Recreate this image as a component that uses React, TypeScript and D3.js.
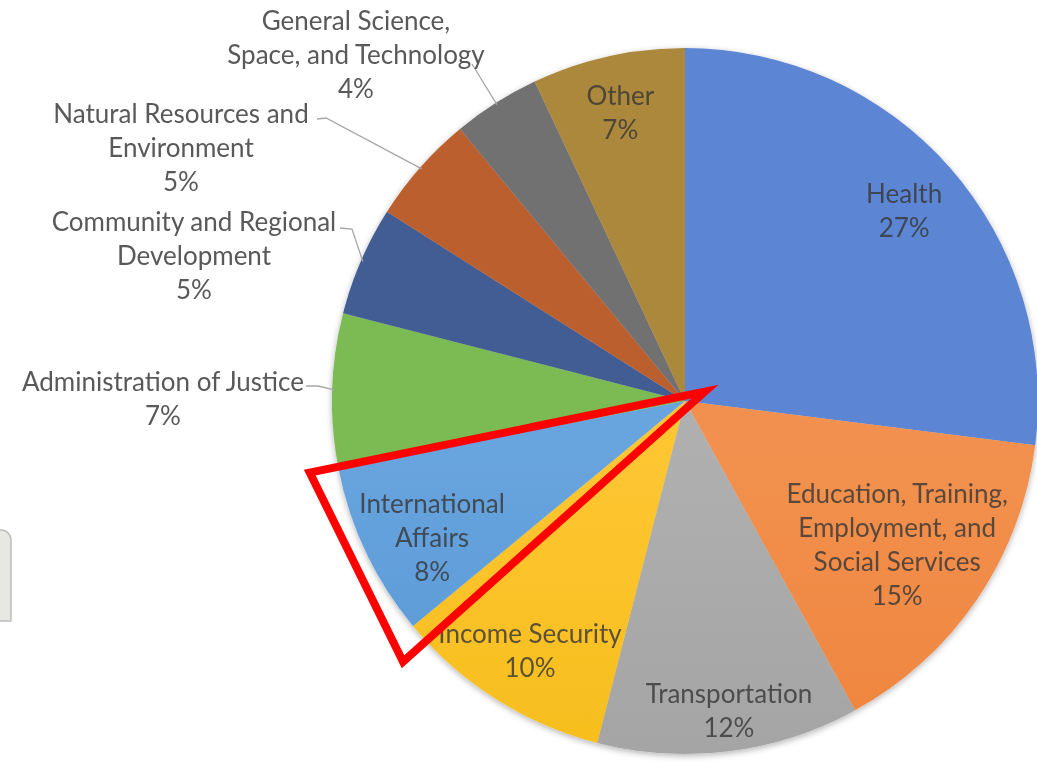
import React from 'react';
import * as d3 from 'd3';

// budget shares, clockwise from 12 o'clock
const categories = [
  'Health',
  'Education, Training, Employment, and Social Services',
  'Transportation',
  'Income Security',
  'International Affairs',
  'Administration of Justice',
  'Community and Regional Development',
  'Natural Resources and Environment',
  'General Science, Space, and Technology',
  'Other'
];
const values = [27, 15, 12, 10, 8, 7, 5, 5, 4, 7];
const labelLines = [
  ['Health'],
  ['Education, Training,', 'Employment, and', 'Social Services'],
  ['Transportation'],
  ['Income Security'],
  ['International', 'Affairs'],
  ['Administration of Justice'],
  ['Community and Regional', 'Development'],
  ['Natural Resources and', 'Environment'],
  ['General Science,', 'Space, and Technology'],
  ['Other']
];
const highlighted = 'International Affairs';

// [light, dark] gradient stops
const colors: [string, string][] = [
  ['#5c86d4', '#2f60bf'],
  ['#f2914f', '#ea7526'],
  ['#afafaf', '#979797'],
  ['#ffc633', '#ebb300'],
  ['#68a4de', '#4489cd'],
  ['#7bba52', '#5ea436'],
  ['#435d93', '#1d3b78'],
  ['#bb5e2d', '#a0480c'],
  ['#717171', '#575757'],
  ['#ab883a', '#977306']
];

const W = 1037;
const H = 765;
const cx = 685;
const cy = 401;
const R = 353;
const LINE = 34;
const FONT = 'Lato, "Noto Sans", sans-serif';

// inside label distance as a fraction of radius (null = outside label), plus a small nudge
const labelRadius: (number | null)[] = [0.82, 0.72, 0.88, 0.83, 0.82, null, null, null, null, 0.84];
const labelNudge: [number, number][] = [[2, 0], [2, 0], [5, 1], [2, 2], [9, 13], [0, 0], [0, 0], [0, 0], [0, 0], [0, 0]];
// outside label placement: centre x, first line y, leader start points
const outside: Record<number, { x: number; y: number; leader: [number, number][] }> = {
  5: { x: 163, y: 381, leader: [[306, 386], [318, 386]] },
  6: { x: 194, y: 221, leader: [[340, 228], [352, 229]] },
  7: { x: 181, y: 113, leader: [[317, 119], [326, 118]] },
  8: { x: 356, y: 20, leader: [[472, 64]] }
};

const pt = (a: number, r: number): [number, number] => [cx + r * Math.sin(a), cy - r * Math.cos(a)];

export default function App() {
  const pie = d3.pie<number>().sort(null).value(d => d);
  const arcs = pie(values);
  const arc = d3.arc<d3.PieArcDatum<number>>().innerRadius(0).outerRadius(R);

  const hi = arcs[categories.indexOf(highlighted)];
  const mid = (hi.startAngle + hi.endAngle) / 2;
  const apex = pt(mid + Math.PI, 22);
  const tri = [apex, pt(hi.startAngle - 0.055, 384), pt(hi.endAngle, 382)];

  return (
    <svg width={W} height={H} style={{ position: 'absolute', left: 0, top: 0, background: '#fff' }}>
      <defs>
        {colors.map((c, i) => (
          <linearGradient key={i} id={`g${i}`} gradientUnits="userSpaceOnUse" x1={0} y1={cy - R} x2={0} y2={cy + R}>
            <stop offset="0" stopColor={c[0]} />
            <stop offset="1" stopColor={c[1]} />
          </linearGradient>
        ))}
        <filter id="shadow" x="-10%" y="-10%" width="120%" height="120%">
          <feDropShadow dx="0" dy="2" stdDeviation="3" floodColor="#000" floodOpacity="0.3" />
        </filter>
      </defs>

      <path d="M-20,530 H1 A10,10 0 0 1 11,540 V621 H-20 Z" fill="#e7e7e4" stroke="#bdbdbb" strokeWidth={1.5} />

      <g filter="url(#shadow)">
        {arcs.map((d, i) => (
          <path key={i} d={arc(d) ?? ''} transform={`translate(${cx},${cy})`} fill={`url(#g${i})`} />
        ))}
      </g>

      {arcs.map((d, i) => {
        const m = (d.startAngle + d.endAngle) / 2;
        const lines = [...labelLines[i], `${values[i]}%`];
        const lr = labelRadius[i];
        if (lr != null) {
          const p = pt(m, lr * R);
          const x = p[0] + labelNudge[i][0];
          const y = p[1] + labelNudge[i][1];
          return (
            <text key={i} x={x} textAnchor="middle" fontFamily={FONT} fontSize={26} fill="#383838" fillOpacity={0.82}>
              {lines.map((l, k) => (
                <tspan key={k} x={x} y={y + (k - (lines.length - 1) / 2) * LINE} dominantBaseline="central">{l}</tspan>
              ))}
            </text>
          );
        }
        const o = outside[i];
        const end = pt(m, R - 2);
        const pts = [...o.leader, end].map(p => p.join(',')).join(' ');
        return (
          <g key={i}>
            <polyline points={pts} fill="none" stroke="#a6a6a6" strokeWidth={1.3} />
            <text x={o.x} textAnchor="middle" fontFamily={FONT} fontSize={26} fill="#595959">
              {lines.map((l, k) => (
                <tspan key={k} x={o.x} y={o.y + k * LINE} dominantBaseline="central">{l}</tspan>
              ))}
            </text>
          </g>
        );
      })}

      <polygon points={tri.map(p => p.join(',')).join(' ')} fill="none" stroke="#ff0000" strokeWidth={8} strokeLinejoin="miter" />
    </svg>
  );
}
